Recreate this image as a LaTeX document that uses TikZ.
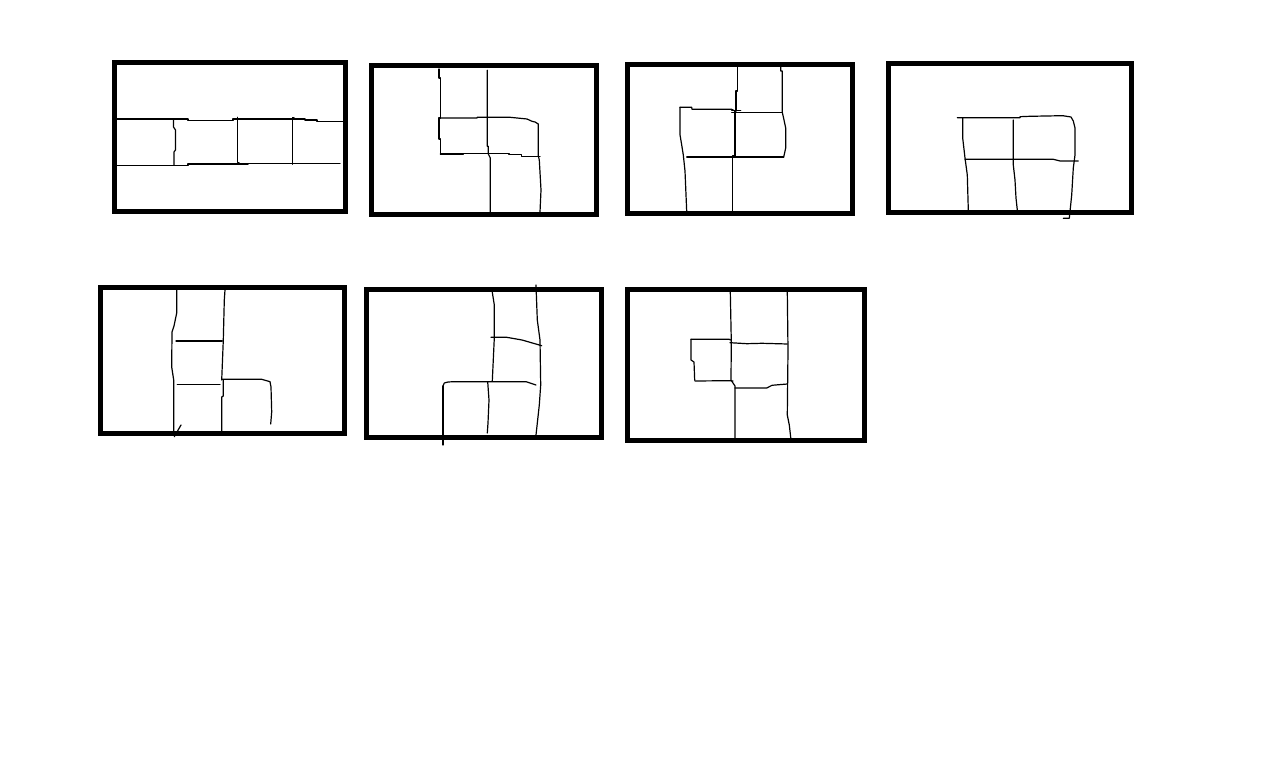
\documentclass[tikz,border=0pt]{standalone}
\usepackage{tikz}
\tikzset{frame/.style={draw, line width=2.5pt},
  stroke/.style={draw, line width=0.6pt, line join=round, line cap=round}}

\begin{document}
\begin{tikzpicture}[x=0.5pt,y=-0.5pt]
  \useasboundingbox[fill=white] (0,0) rectangle (1286,769);
  % top row
  \draw[frame] (114.5,62.5) rectangle (345.5,212);
  \draw[frame] (371.5,65.5) rectangle (596.5,214.5);
  \draw[frame] (627.5,64.5) rectangle (852.5,213.5);
  \draw[frame] (888.5,64) rectangle (1131.5,212.5);
  % bottom row
  \draw[frame] (100.5,287.5) rectangle (344.5,434);
  \draw[frame] (366.5,289.5) rectangle (601.5,438);
  \draw[frame] (627.5,289.5) rectangle (864.5,441);
  % panel 1
  \draw[stroke] (117,119) -- (188,119) -- (188,120.5) -- (233,120.5) -- (233,119) -- (305,119)
    -- (305,120) -- (317,120) -- (317,121.5) -- (343,121.5);
  \draw[stroke] (117,165.3) -- (188,165.3) -- (188,164) -- (248,164) -- (248,163.3) -- (340,163.3);
  \draw[stroke] (173.5,119) -- (173.5,127) -- (175.5,130) -- (175.5,150) -- (174,152) -- (174,165);
  \draw[stroke] (237.7,117.3) -- (237.7,162.3) -- (239,162.3);
  \draw[stroke] (294,117.3) -- (292.7,117.3) -- (292.7,164.3);
  % panel 2
  \draw[stroke] (439,69) -- (439,78) -- (440.3,78) -- (440.3,118) -- (439,118) -- (439,139)
    -- (440.3,139) -- (440.3,154);
  \draw[stroke] (439,118) -- (477,118) -- (477.3,117.3) -- (510,117.3) -- (527,119) -- (532,121.3)
    -- (535,122) -- (538.3,124) -- (538.3,156) -- (539.3,160) -- (541,190) -- (540,212);
  \draw[stroke] (440.3,154) -- (463.3,154) -- (463.3,153.3) -- (509,153.3) -- (509,154.3)
    -- (521.7,154.3) -- (521.7,156.3) -- (540,156.3);
  \draw[stroke] (487.3,70.3) -- (487.3,146.3) -- (488.3,146.3) -- (488.3,154) -- (490.3,158) -- (490.3,213);
  % panel 3
  \draw[stroke] (737.3,67) -- (737.3,91) -- (736,91) -- (736,111) -- (735,111) -- (735,156)
    -- (732.7,156) -- (732.7,212);
  \draw[stroke] (780.7,67) -- (780.7,71) -- (782.3,71) -- (782.3,112.3) -- (784,120) -- (785.7,128)
    -- (785.7,148) -- (783.7,157);
  \draw[stroke] (731.7,112.3) -- (782.3,112.3);
  \draw[stroke] (731.7,110.7) -- (740.7,110.7);
  \draw[stroke] (680,107.3) -- (691.7,107.3) -- (692,109.3) -- (731.7,109.3) -- (735,111);
  \draw[stroke] (680,107.3) -- (680,134.7) -- (681.7,145) -- (683.3,155) -- (685,171) -- (686.7,211.3);
  \draw[stroke] (686.7,157) -- (783.7,157);
  % panel 4
  \draw[stroke] (957.3,117.7) -- (1020,117.7) -- (1020,116.7) -- (1030,116.3) -- (1062.7,115.7)
    -- (1071,117) -- (1073.3,121) -- (1075,128) -- (1075,155) -- (1073.3,168) -- (1071.7,195)
    -- (1069.3,218.3) -- (1063.3,218.3);
  \draw[stroke] (962.7,117.7) -- (962.7,138) -- (965,158) -- (967.3,175) -- (968.3,210);
  \draw[stroke] (1013.3,120) -- (1013.3,165) -- (1015,180) -- (1016,198) -- (1017.3,210);
  \draw[stroke] (965,159.3) -- (1053.3,159.3) -- (1060,161) -- (1078.3,161);
  % panel 5
  \draw[stroke] (176.7,290) -- (176.7,313) -- (174,326) -- (172,332) -- (171.7,367) -- (173.7,380)
    -- (173.7,435);
  \draw[stroke] (174.3,436.7) -- (181,425);
  \draw[stroke] (225,290) -- (224.3,300) -- (223.3,340) -- (221.7,380);
  \draw[stroke] (223.3,380) -- (223.3,396) -- (221.7,397) -- (221.7,432);
  \draw[stroke] (176,341) -- (222.3,341);
  \draw[stroke] (177.3,384.3) -- (220,384.3);
  \draw[stroke] (221.7,379.3) -- (261.7,379.3) -- (270,381.7) -- (271,387) -- (271.7,412) -- (270.7,424);
  % panel 6
  \draw[stroke] (492.3,292.3) -- (494.3,305) -- (494.3,338) -- (492.3,381);
  \draw[stroke] (536,285) -- (537.3,320) -- (540,340) -- (540.7,385) -- (539.3,405) -- (536,435);
  \draw[stroke] (491,337.3) -- (506.7,337.3) -- (522,340) -- (541.7,345.7);
  \draw[stroke] (443,386) -- (444.3,383) -- (448,382) -- (454,381.7) -- (526,381.7) -- (536,385);
  \draw[stroke] (443,386) -- (443,445);
  \draw[stroke] (487.7,381.7) -- (489,400) -- (488,423) -- (487.3,433);
  % panel 7
  \draw[stroke] (730.3,292) -- (731.3,342) -- (731,380) -- (733,383) -- (735,386) -- (735,440);
  \draw[stroke] (787.3,292) -- (788,350) -- (787.3,415) -- (789.3,425) -- (791,440);
  \draw[stroke] (730,342.7) -- (747,343.7) -- (762,343.3) -- (787.3,344);
  \draw[stroke] (691,339.3) -- (729,339.3) -- (731,340);
  \draw[stroke] (691,339.3) -- (691,360) -- (694,362) -- (694.7,380.3);
  \draw[stroke] (695,381) -- (730,380.7) -- (733,381);
  \draw[stroke] (735,388) -- (766.7,388) -- (772,385.3) -- (787.3,384);
\end{tikzpicture}
\end{document}
